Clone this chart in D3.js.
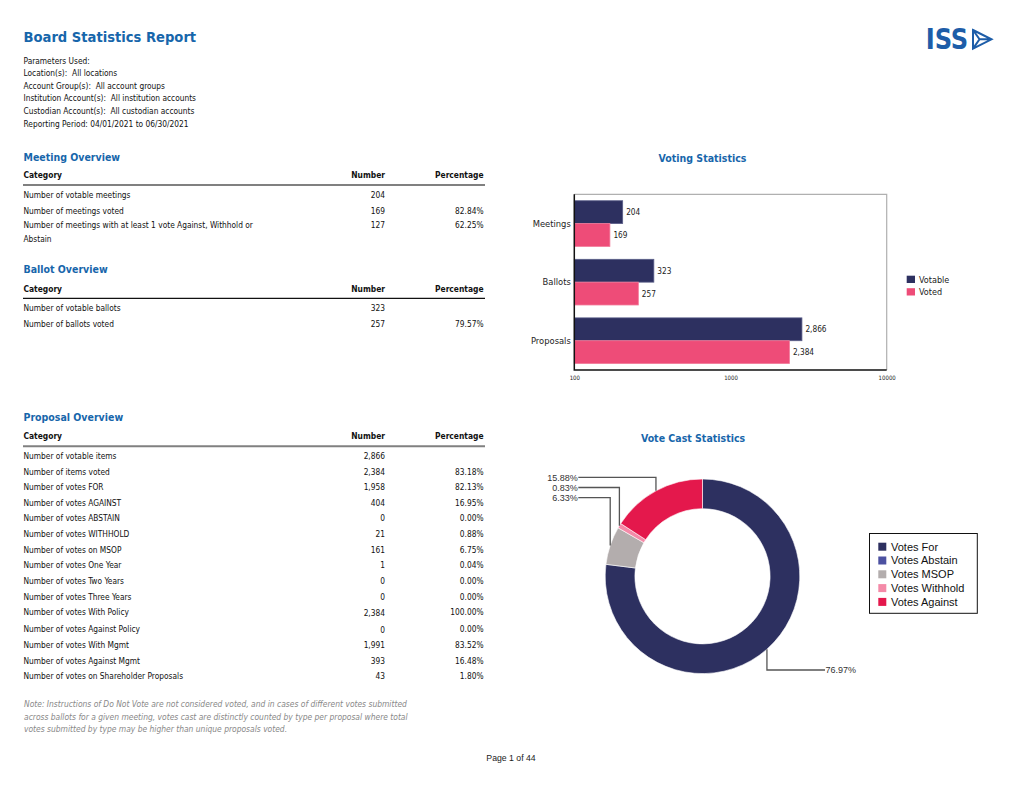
<!DOCTYPE html>
<html><head><meta charset="utf-8">
<script src="https://cdn.jsdelivr.net/npm/d3@7"></script>
<style>
html,body{margin:0;padding:0;background:#fff;}
svg{display:block;}
svg text{white-space:pre;}
</style></head><body>
<svg id="page" width="1020" height="788"></svg>
<script>
// ---------- DATA ----------
const reportTitle = "Board Statistics Report";
const paramLines = [
  "Parameters Used:",
  "Location(s):  All locations",
  "Account Group(s):  All account groups",
  "Institution Account(s):  All institution accounts",
  "Custodian Account(s):  All custodian accounts",
  "Reporting Period: 04/01/2021 to 06/30/2021"
];
const tableHeaders = ["Category", "Number", "Percentage"];
const meetingLabels = ["Number of votable meetings", "Number of meetings voted", "Number of meetings with at least 1 vote Against, Withhold or\nAbstain"];
const meetingNumbers = ["204", "169", "127"];
const meetingPcts = ["", "82.84%", "62.25%"];
const ballotLabels = ["Number of votable ballots", "Number of ballots voted"];
const ballotNumbers = ["323", "257"];
const ballotPcts = ["", "79.57%"];
const proposalLabels = ["Number of votable items", "Number of items voted", "Number of votes FOR", "Number of votes AGAINST",
  "Number of votes ABSTAIN", "Number of votes WITHHOLD", "Number of votes on MSOP", "Number of votes One Year",
  "Number of votes Two Years", "Number of votes Three Years", "Number of votes With Policy", "Number of votes Against Policy",
  "Number of votes With Mgmt", "Number of votes Against Mgmt", "Number of votes on Shareholder Proposals"];
const proposalNumbers = ["2,866", "2,384", "1,958", "404", "0", "21", "161", "1", "0", "0", "2,384", "0", "1,991", "393", "43"];
const proposalPcts = ["", "83.18%", "82.13%", "16.95%", "0.00%", "0.88%", "6.75%", "0.04%", "0.00%", "0.00%", "100.00%", "0.00%", "83.52%", "16.48%", "1.80%"];
const noteLines = [
  "Note: Instructions of Do Not Vote are not considered voted, and in cases of different votes submitted",
  "across ballots for a given meeting, votes cast are distinctly counted by type per proposal where total",
  "votes submitted by type may be higher than unique proposals voted."
];
const barCategories = ["Meetings", "Ballots", "Proposals"];
const barSeries = ["Votable", "Voted"];
const votableValues = [204, 323, 2866];
const votedValues = [169, 257, 2384];
const axisTicks = [100, 1000, 10000];
const pieLabels = ["Votes For", "Votes Abstain", "Votes MSOP", "Votes Withhold", "Votes Against"];
const pieValues = [76.97, 0, 6.33, 0.83, 15.88];

// ---------- STYLE ----------
const F = '"DejaVu Sans Condensed","DejaVu Sans",sans-serif';
const FA = '"Liberation Sans",Arial,sans-serif';
const BLUE = "#1766ab";
const NAVY = "#2d3060";
const PINK = "#ee4c78";
const pieColors = ["#2d3060", "#4c51a1", "#b3adad", "#f48aa8", "#e4184c"];

const svg = d3.select("#page");

function text(g, x, y, s, o = {}) {
  return g.append("text").attr("x", x).attr("y", y).text(s)
    .attr("font-family", o.family || F).attr("font-size", o.size || 8.3)
    .attr("font-weight", o.weight || "normal").attr("font-style", o.style || "normal")
    .attr("fill", o.fill || "#111").attr("text-anchor", o.anchor || "start");
}

// ---------- HEADER ----------
text(svg, 23.5, 42.3, reportTitle, {size: 14.6, weight: "bold", fill: BLUE});
paramLines.forEach((l, i) => text(svg, 23.5, 63.5 + i * 12.6, l, {size: 8.3}));

// ISS logo
const logo = svg.append("g");
logo.append("text").attr("x", 925.7).attr("y", 49.3).text("ISS")
  .attr("font-family", F).attr("font-weight", "bold").attr("font-size", 29)
  .attr("fill", "#1d5da8").attr("textLength", 42.6).attr("lengthAdjust", "spacingAndGlyphs");
logo.append("path").attr("d", "M973,30 L991.5,39.3 L973,48.6 Z M973,30 L979.5,39.3 L973,48.6 M979.5,39.3 L991.5,39.3")
  .attr("fill", "none").attr("stroke", "#1d5da8").attr("stroke-width", 2).attr("stroke-linejoin", "miter");

// ---------- TABLES ----------
const LX = 23.5, NX = 385, PX = 483.5;
function drawTable(cfg) {
  const g = svg.append("g");
  text(g, LX, cfg.titleY, cfg.title, {size: 10.5, weight: "bold", fill: BLUE});
  text(g, LX, cfg.headY, tableHeaders[0], {size: 8.4, weight: "bold"});
  text(g, NX, cfg.headY, tableHeaders[1], {size: 8.4, weight: "bold", anchor: "end"});
  text(g, PX, cfg.headY, tableHeaders[2], {size: 8.4, weight: "bold", anchor: "end"});
  g.append("line").attr("x1", 23).attr("x2", 485).attr("y1", cfg.lineY).attr("y2", cfg.lineY)
    .attr("stroke", cfg.lineColor).attr("stroke-width", cfg.lineW);
  cfg.labels.forEach((lab, i) => {
    const y = cfg.rowY(i);
    lab.split("\n").forEach((part, k) => text(g, LX, y + k * 13.4, part, {size: 8.3}));
    text(g, NX, y + (cfg.numShift ? cfg.numShift(i) : 0), cfg.numbers[i], {size: 8.3, anchor: "end"});
    text(g, PX, y, cfg.pcts[i], {size: 8.3, anchor: "end"});
  });
}
drawTable({title: "Meeting Overview", titleY: 160.7, headY: 178.3, lineY: 185, lineColor: "#808080", lineW: 2,
  labels: meetingLabels, numbers: meetingNumbers, pcts: meetingPcts, rowY: i => [198.3, 214, 228.3][i]});
drawTable({title: "Ballot Overview", titleY: 273.3, headY: 291.7, lineY: 298.3, lineColor: "#111", lineW: 1.3,
  labels: ballotLabels, numbers: ballotNumbers, pcts: ballotPcts, rowY: i => 311 + i * 16});
drawTable({title: "Proposal Overview", titleY: 421, headY: 439, lineY: 446.3, lineColor: "#808080", lineW: 2,
  labels: proposalLabels, numbers: proposalNumbers, pcts: proposalPcts,
  rowY: i => 459 + i * 15.62 + (i >= 11 ? 1.6 : 0),
  numShift: i => (i === 10 || i === 11) ? 1 : 0});

noteLines.forEach((l, i) => text(svg, 24, 707 + i * 12.5, l, {size: 8.42, style: "italic", fill: "#888"}));
text(svg, 511, 761, "Page 1 of 44", {family: FA, size: 8.7, anchor: "middle", fill: "#222"});

// ---------- BAR CHART ----------
const bc = svg.append("g");
text(bc, 702.5, 161.7, "Voting Statistics", {size: 10.5, weight: "bold", fill: BLUE, anchor: "middle"});
const x = d3.scaleLog().domain([100, 10000]).range([574.3, 886.7]);
const y0 = d3.scaleBand().domain(barCategories).range([194.3, 370]).paddingInner(0.22).paddingOuter(0.11);
const y1 = d3.scaleBand().domain(barSeries).range([0, y0.bandwidth()]);
const barColor = d3.scaleOrdinal().domain(barSeries).range([NAVY, PINK]);
const barData = [];
barCategories.forEach((c, i) => {
  barData.push({cat: c, s: "Votable", v: votableValues[i]});
  barData.push({cat: c, s: "Voted", v: votedValues[i]});
});
// frame
bc.append("path").attr("d", `M${x(100)},194.3 H${x(10000)} V370`).attr("fill", "none")
  .attr("stroke", "#b0b0b0").attr("stroke-width", 1.2);
bc.selectAll("rect.bar").data(barData).enter().append("rect").attr("class", "bar")
  .attr("x", x(100)).attr("y", d => y0(d.cat) + y1(d.s))
  .attr("width", d => x(d.v) - x(100)).attr("height", y1.bandwidth())
  .attr("fill", d => barColor(d.s))
  .attr("stroke", d => d.s === "Votable" ? "#5a5d88" : "#f27a9a").attr("stroke-width", 0.8);
bc.selectAll("text.val").data(barData).enter().append("text").attr("class", "val")
  .attr("x", d => x(d.v) + 3.5).attr("y", d => y0(d.cat) + y1(d.s) + y1.bandwidth() / 2 + 3.2)
  .text(d => d3.format(",")(d.v)).attr("font-family", F).attr("font-size", 8.2).attr("fill", "#222");
bc.append("path").attr("d", `M${x(100)},194.3 V370 H${x(10000)}`).attr("fill", "none")
  .attr("stroke", "#111").attr("stroke-width", 1.5);
const yAxis = bc.append("g").attr("transform", `translate(${x(100)},0)`)
  .call(d3.axisLeft(y0).tickSize(0).tickPadding(3.5));
yAxis.select(".domain").remove();
yAxis.selectAll("text").attr("font-family", F).attr("font-size", 9.3).attr("fill", "#222").attr("dy", "0.35em");
const xAxis = bc.append("g").attr("transform", "translate(0,370)")
  .call(d3.axisBottom(x).tickValues(axisTicks).tickFormat(d3.format("d")).tickSize(0).tickPadding(6));
xAxis.select(".domain").remove();
xAxis.selectAll("text").attr("font-family", F).attr("font-size", 6).attr("fill", "#222");
// legend
barSeries.forEach((s, i) => {
  bc.append("rect").attr("x", 906.7).attr("y", 275.7 + i * 12.5).attr("width", 8.3).attr("height", 7.3).attr("fill", barColor(s));
  text(bc, 919, 282.7 + i * 12.5, s, {size: 9, fill: "#222"});
});

// ---------- DONUT ----------
const dc = svg.append("g");
text(dc, 693, 442.3, "Vote Cast Statistics", {size: 10.5, weight: "bold", fill: BLUE, anchor: "middle"});
const cx = 702.5, cy = 576.3, rO = 97.3, rI = 67.6;
const pie = d3.pie().sort(null).value(d => d.v).startAngle(0).endAngle(2 * Math.PI);
const arcs = pie(pieLabels.map((l, i) => ({l, v: pieValues[i], c: pieColors[i]})));
const arc = d3.arc().innerRadius(rI).outerRadius(rO);
const pg = dc.append("g").attr("transform", `translate(${cx},${cy})`);
pg.selectAll("path").data(arcs.filter(a => a.data.v > 0)).enter().append("path")
  .attr("d", arc).attr("fill", d => d.data.c).attr("stroke", "#fff").attr("stroke-width", 0.6);
// leader lines + labels
const leftArcs = arcs.filter(a => a.data.v > 0 && (a.startAngle + a.endAngle) / 2 > Math.PI).reverse();
const rightArcs = arcs.filter(a => a.data.v > 0 && (a.startAngle + a.endAngle) / 2 <= Math.PI);
function leader(a, ly, lx, anchor) {
  const m = (a.startAngle + a.endAngle) / 2;
  const px = cx + rO * Math.sin(m), py = cy - rO * Math.cos(m);
  dc.append("path").attr("d", `M${px},${py} V${ly} H${lx}`).attr("fill", "none")
    .attr("stroke", "#555").attr("stroke-width", 1.3);
  text(dc, anchor === "end" ? lx - 0.5 : lx + 0.5, ly + 3.2, d3.format(".2f")(a.data.v) + "%",
    {family: FA, size: 9, fill: "#333", anchor});
}
leftArcs.forEach((a, i) => leader(a, 477.3 + i * 10.2, 578.3, "end"));
rightArcs.forEach((a, i) => leader(a, 670 + i * 10.2, 825, "start"));
// legend
dc.append("rect").attr("x", 869.5).attr("y", 533.5).attr("width", 107.8).attr("height", 79.8)
  .attr("fill", "#fff").attr("stroke", "#111").attr("stroke-width", 1);
pieLabels.forEach((l, i) => {
  dc.append("rect").attr("x", 878.3).attr("y", 542.7 + i * 13.8).attr("width", 8).attr("height", 8).attr("fill", pieColors[i]);
  text(dc, 891, 550.6 + i * 13.8, l, {family: FA, size: 11, fill: "#111"});
});
</script>
</body></html>
